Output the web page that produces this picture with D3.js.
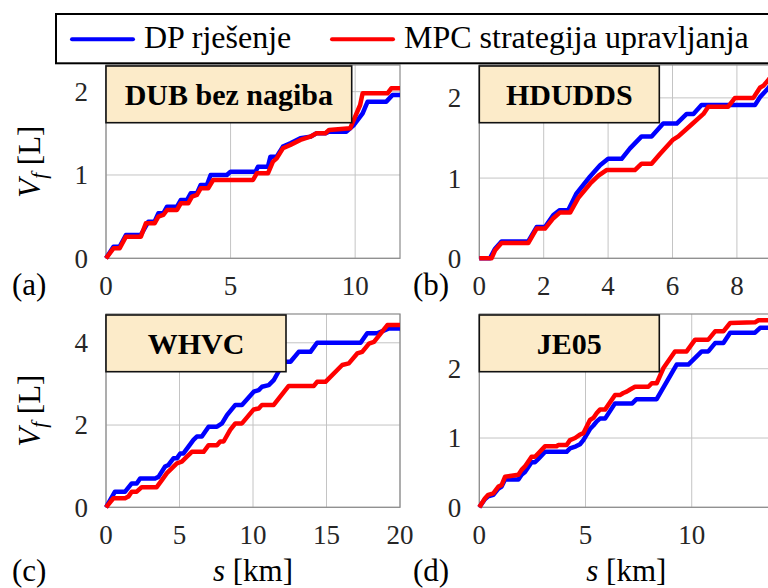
<!DOCTYPE html>
<html>
<head>
<meta charset="utf-8">
<script src="https://cdn.jsdelivr.net/npm/d3@7"></script>
<style>
  body { margin: 0; background: #fff; }
  svg text { font-family: "Liberation Serif", "DejaVu Serif", "Times New Roman", serif; }
</style>
</head>
<body>
<div id="chart"></div>
<script>
// fuel consumption V_f [L] vs distance s [km], DP vs MPC, four driving cycles

const dubDP = [[0,0],[0.3,0.14],[0.55,0.14],[0.8,0.28],[1.4,0.28],[1.7,0.44],[1.95,0.44],[2.1,0.54],[2.3,0.54],[2.45,0.62],[2.85,0.62],[3.0,0.70],[3.25,0.70],[3.4,0.78],[3.65,0.78],[3.8,0.88],[4.05,0.88],[4.2,1.0],[4.85,1.0],[5.0,1.04],[6.0,1.04],[6.1,1.10],[6.5,1.10],[6.6,1.22],[6.85,1.22],[7.1,1.34],[7.4,1.38],[7.8,1.44],[8.2,1.46],[8.45,1.5],[8.8,1.5],[8.95,1.52],[9.65,1.52],[9.95,1.6],[10.3,1.74],[10.5,1.88],[11.25,1.88],[11.5,1.96],[11.8,1.96]];
const dubMPC = [[0,0],[0.3,0.12],[0.55,0.12],[0.8,0.26],[1.4,0.26],[1.6,0.42],[1.95,0.42],[2.1,0.5],[2.3,0.52],[2.45,0.58],[2.85,0.58],[3.0,0.66],[3.3,0.66],[3.45,0.74],[3.65,0.76],[3.8,0.84],[4.1,0.84],[4.3,0.94],[5.9,0.94],[6.05,1.02],[6.5,1.02],[6.7,1.16],[6.85,1.2],[7.1,1.32],[7.4,1.36],[7.8,1.42],[8.2,1.46],[8.45,1.5],[8.8,1.5],[8.95,1.54],[9.8,1.56],[10.0,1.7],[10.2,1.84],[10.3,1.98],[11.3,1.98],[11.45,2.04],[11.8,2.04]];

const hdDP = [[0,0],[0.33,0],[0.49,0.12],[0.69,0.21],[1.52,0.21],[1.78,0.39],[2.04,0.39],[2.3,0.54],[2.5,0.6],[2.76,0.6],[3.02,0.81],[3.44,1.02],[3.75,1.16],[4.0,1.24],[4.42,1.24],[4.68,1.37],[5.04,1.52],[5.35,1.52],[5.71,1.68],[6.13,1.68],[6.44,1.8],[6.65,1.8],[6.9,1.91],[8.56,1.91],[8.72,2.01],[8.97,2.12],[9.13,2.2]];
const hdMPC = [[0,0],[0.38,0],[0.49,0.1],[0.69,0.19],[1.52,0.19],[1.78,0.37],[2.04,0.37],[2.3,0.5],[2.5,0.57],[2.82,0.57],[3.07,0.75],[3.44,0.93],[3.7,1.03],[3.95,1.1],[4.83,1.1],[5.04,1.18],[5.35,1.18],[5.61,1.3],[6.02,1.48],[6.18,1.52],[6.54,1.65],[6.96,1.8],[7.11,1.89],[7.73,1.89],[7.94,2.0],[8.51,2.0],[8.72,2.13],[8.82,2.15],[8.97,2.22],[9.13,2.3]];

const whvcDP = [[0,0],[0.61,0.38],[1.3,0.38],[1.75,0.58],[2.09,0.58],[2.32,0.7],[3.34,0.7],[3.57,0.74],[4.02,0.99],[4.25,1.03],[4.59,1.19],[4.82,1.19],[5.05,1.31],[5.27,1.31],[5.95,1.64],[6.18,1.72],[6.52,1.72],[6.98,1.96],[7.55,1.96],[7.89,2.04],[8.23,2.24],[8.8,2.49],[9.25,2.49],[10.05,2.81],[10.39,2.85],[10.61,2.93],[11.07,2.97],[11.41,3.09],[11.98,3.46],[12.2,3.54],[12.55,3.54],[13.11,3.78],[13.91,3.78],[14.36,4.0],[17.32,4.0],[17.77,4.23],[18.45,4.23],[19.25,4.35],[20,4.35]];
const whvcMPC = [[0,0],[0.5,0.22],[1.3,0.22],[1.52,0.26],[1.75,0.38],[2.09,0.38],[2.43,0.49],[3.45,0.49],[3.8,0.66],[4.14,0.83],[4.59,0.99],[4.82,1.07],[5.16,1.11],[5.5,1.23],[5.84,1.35],[6.64,1.35],[6.98,1.51],[7.55,1.51],[7.77,1.6],[8.0,1.6],[8.45,1.88],[8.8,2.04],[9.25,2.04],[10.05,2.38],[10.39,2.4],[10.61,2.49],[11.41,2.49],[12.43,2.95],[14.14,2.95],[14.36,3.05],[14.93,3.05],[16.07,3.46],[16.52,3.5],[17.09,3.74],[17.43,3.78],[17.89,3.98],[18.23,4.02],[19.14,4.43],[20,4.43]];

const je05DP = [[0,0],[0.27,0.12],[0.42,0.16],[0.66,0.18],[0.9,0.27],[1.05,0.3],[1.21,0.4],[1.84,0.4],[1.99,0.47],[2.15,0.51],[2.46,0.65],[2.62,0.65],[2.78,0.7],[3.09,0.8],[4.11,0.8],[4.27,0.85],[4.55,0.88],[4.74,0.91],[4.9,0.97],[5.21,1.13],[5.37,1.18],[5.53,1.24],[5.68,1.28],[5.92,1.28],[6.39,1.5],[7.2,1.5],[7.4,1.56],[8.35,1.56],[9.29,2.06],[9.84,2.06],[10.47,2.25],[10.78,2.25],[11.1,2.37],[11.49,2.37],[11.81,2.52],[12.98,2.52],[13.22,2.59],[13.84,2.59]];
const je05MPC = [[0,0],[0.27,0.13],[0.42,0.18],[0.66,0.2],[0.9,0.3],[1.05,0.32],[1.21,0.44],[1.84,0.47],[1.99,0.54],[2.15,0.59],[2.46,0.73],[2.62,0.73],[2.78,0.78],[3.09,0.88],[3.64,0.88],[3.72,0.9],[4.11,0.9],[4.27,0.97],[4.51,1.0],[4.74,1.05],[4.9,1.07],[5.21,1.26],[5.37,1.29],[5.53,1.36],[5.68,1.41],[5.92,1.41],[6.39,1.62],[6.62,1.62],[6.78,1.65],[6.94,1.67],[7.1,1.7],[7.33,1.74],[7.96,1.74],[8.12,1.79],[8.35,1.79],[8.67,2.01],[9.21,2.25],[9.76,2.25],[10.16,2.42],[10.78,2.42],[11.1,2.54],[11.49,2.54],[11.81,2.66],[12.98,2.67],[13.14,2.7],[13.84,2.7]];

const cycleNames = ["DUB bez nagiba", "HDUDDS", "WHVC", "JE05"];
const panelTags = ["(a)", "(b)", "(c)", "(d)"];
const xMaxes = [11.8, 9.13, 20, 13.84];
const yMaxes = [2.32, 2.41, 4.7, 2.79];
const xTickVals = [[0, 5, 10], [0, 2, 4, 6, 8], [0, 5, 10, 15, 20], [0, 5, 10]];
const yTickVals = [[0, 1, 2], [0, 1, 2], [0, 2, 4], [0, 1, 2]];
const seriesNames = ["DP rješenje", "MPC strategija upravljanja"];

const W = 768, H = 588;
const plotW = 294, plotH = 193.3;
const lefts = [106, 479.3, 106, 479.3];
const tops = [65, 65, 314, 314];
const boxW = [245.7, 180, 180, 180];
const colors = ["#0000ff", "#ff0000"];
const dpData = [dubDP, hdDP, whvcDP, je05DP];
const mpcData = [dubMPC, hdMPC, whvcMPC, je05MPC];
const serif = "'Liberation Serif', 'DejaVu Serif', 'Times New Roman', serif";

const svg = d3.select("#chart").append("svg")
    .attr("width", W)
    .attr("height", H)
    .attr("font-family", serif)
    .style("font-family", serif);

panelTags.forEach((tag, i) => {
    const x0 = lefts[i], y0 = tops[i];
    const x = d3.scaleLinear().domain([0, xMaxes[i]]).range([x0, x0 + plotW]);
    const y = d3.scaleLinear().domain([0, yMaxes[i]]).range([y0 + plotH, y0]);
    const g = svg.append("g");

    // grid
    g.selectAll(".vgrid").data(xTickVals[i]).join("line")
        .attr("x1", d => x(d)).attr("x2", d => x(d))
        .attr("y1", y0).attr("y2", y0 + plotH)
        .attr("stroke", "#c4c4c4").attr("stroke-width", 1);
    g.selectAll(".hgrid").data(yTickVals[i]).join("line")
        .attr("x1", x0).attr("x2", x0 + plotW)
        .attr("y1", d => y(d)).attr("y2", d => y(d))
        .attr("stroke", "#c4c4c4").attr("stroke-width", 1);

    g.append("rect")
        .attr("x", x0).attr("y", y0)
        .attr("width", plotW).attr("height", plotH)
        .attr("fill", "none")
        .attr("stroke", "#8a8a8a").attr("stroke-width", 1.2);

    // tick labels
    g.selectAll(".xt").data(xTickVals[i]).join("text")
        .attr("x", d => x(d)).attr("y", y0 + plotH + 37)
        .attr("text-anchor", "middle")
        .attr("font-size", 27).attr("fill", "#262626")
        .text(d => d);
    g.selectAll(".yt").data(yTickVals[i]).join("text")
        .attr("x", x0 - 18).attr("y", d => y(d))
        .attr("dy", "0.35em")
        .attr("text-anchor", "end")
        .attr("font-size", 27).attr("fill", "#262626")
        .text(d => d);

    // lines, MPC on top
    const line = d3.line().x(d => x(d[0])).y(d => y(d[1]));
    [dpData[i], mpcData[i]].forEach((s, k) => {
        g.append("path")
            .datum(s)
            .attr("d", line)
            .attr("fill", "none")
            .attr("stroke", colors[k])
            .attr("stroke-width", 4.5)
            .attr("stroke-linejoin", "round");
    });

    // cycle name box
    g.append("rect")
        .attr("x", x0).attr("y", y0 + 1)
        .attr("width", boxW[i]).attr("height", 56.7)
        .attr("fill", "#fcebc9")
        .attr("stroke", "#111").attr("stroke-width", 1.6);
    g.append("text")
        .attr("x", x0 + boxW[i] / 2).attr("y", y0 + 1 + 28.3)
        .attr("dy", "0.35em")
        .attr("text-anchor", "middle")
        .attr("font-size", 30).attr("font-weight", "bold")
        .text(cycleNames[i]);

    // panel tag
    g.append("text")
        .attr("x", i % 2 === 0 ? 12 : 413)
        .attr("y", i < 2 ? y0 + plotH + 37 : 581)
        .attr("font-size", 31)
        .text(tag);

    if (i % 2 === 0) {
        const yl = g.append("text")
            .attr("transform", `translate(39.5,${y0 + plotH / 2}) rotate(-90)`)
            .attr("text-anchor", "middle")
            .attr("font-size", 31);
        yl.append("tspan").attr("font-style", "italic").text("V");
        yl.append("tspan").attr("font-style", "italic").attr("font-size", 21).attr("dy", 6).text("f");
        yl.append("tspan").attr("dy", -6).text(" [L]");
    }
    if (i >= 2) {
        const xl = g.append("text")
            .attr("x", x0 + plotW / 2).attr("y", 581)
            .attr("text-anchor", "middle")
            .attr("font-size", 31);
        xl.append("tspan").attr("font-style", "italic").text("s");
        xl.append("tspan").text(" [km]");
    }
});

// legend
const leg = svg.append("g");
leg.append("rect")
    .attr("x", 56).attr("y", 14)
    .attr("width", 760).attr("height", 49.3)
    .attr("fill", "#fff")
    .attr("stroke", "#000").attr("stroke-width", 2);
const legX = [72, 332];
seriesNames.forEach((name, k) => {
    leg.append("line")
        .attr("x1", legX[k]).attr("x2", legX[k] + 61)
        .attr("y1", 39.3).attr("y2", 39.3)
        .attr("stroke", colors[k]).attr("stroke-width", 4)
        .attr("stroke-linecap", "round");
    leg.append("text")
        .attr("x", legX[k] + 72).attr("y", 48.3)
        .attr("font-size", 32)
        .text(name);
});
</script>
</body>
</html>
